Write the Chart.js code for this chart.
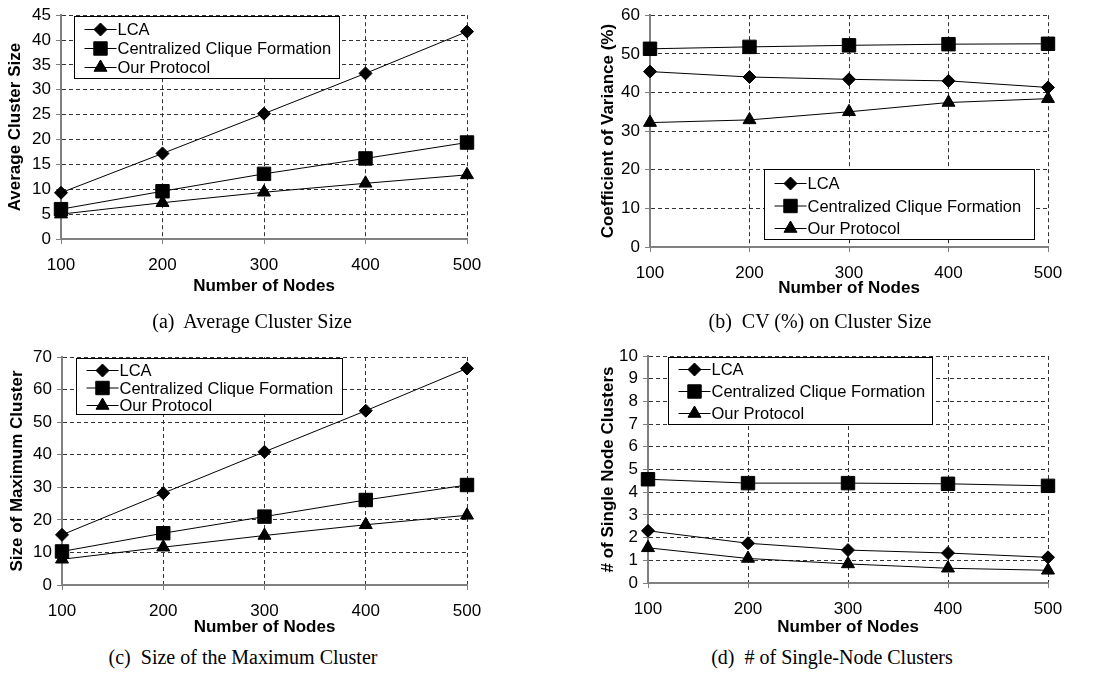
<!DOCTYPE html>
<html>
<head>
<meta charset="utf-8">
<script src="https://cdn.jsdelivr.net/npm/chart.js@4"></script>
<style>
  body { margin: 0; background: #fff; width: 1094px; height: 675px; position: relative; overflow: hidden; }
  .panel { position: absolute; }
  .cap { position: absolute; font: 20px "Liberation Serif", "Times New Roman", serif; color: #000; white-space: pre; transform: translateX(-50%); }
</style>
</head>
<body>
<div class="panel" style="left:0;top:0;width:540px;height:297px"><canvas id="ca"></canvas></div>
<div class="panel" style="left:598px;top:0;width:496px;height:299px"><canvas id="cb"></canvas></div>
<div class="panel" style="left:0;top:330px;width:540px;height:308px"><canvas id="cc"></canvas></div>
<div class="panel" style="left:598px;top:330px;width:496px;height:308px"><canvas id="cd"></canvas></div>
<div class="cap" style="left:252px;top:310px">(a)  Average Cluster Size</div>
<div class="cap" style="left:820px;top:310px">(b)  CV (%) on Cluster Size</div>
<div class="cap" style="left:243px;top:646px">(c)  Size of the Maximum Cluster</div>
<div class="cap" style="left:832px;top:646px">(d)  # of Single-Node Clusters</div>
<script>
const nodes = ['100', '200', '300', '400', '500'];
const seriesNames = ['LCA', 'Centralized Clique Formation', 'Our Protocol'];

// (a) average cluster size
const avgLCA = [9.3, 17.2, 25.2, 33.3, 41.7];
const avgCCF = [6.0, 9.6, 13.1, 16.2, 19.4];
const avgOur = [5.0, 7.3, 9.4, 11.2, 12.9];

// (b) CV (%)
const cvLCA = [45.4, 44.0, 43.4, 43.0, 41.3];
const cvCCF = [51.3, 51.8, 52.2, 52.5, 52.6];
const cvOur = [32.2, 32.9, 35.0, 37.4, 38.4];

// (c) max cluster
const maxLCA = [15.4, 28.2, 40.9, 53.5, 66.5];
const maxCCF = [10.3, 15.9, 21.0, 26.1, 30.7];
const maxOur = [7.9, 11.6, 15.2, 18.5, 21.4];

// (d) single node clusters
const singleLCA = [2.3, 1.75, 1.45, 1.32, 1.13];
const singleCCF = [4.57, 4.40, 4.40, 4.37, 4.28];
const singleOur = [1.55, 1.08, 0.84, 0.65, 0.56];

const SANS = '"Liberation Sans", Arial, sans-serif';
Chart.defaults.font.family = SANS;
Chart.defaults.color = '#000';
Chart.defaults.animation = false;

const markers = [
  { pointStyle: 'rectRot', pointRadius: 6.5 },
  { pointStyle: 'rect', pointRadius: 9.5 },
  { pointStyle: 'triangle', pointRadius: 7.5 },
];

// legend drawn as a framed box inside the plot
const boxLegend = {
  id: 'boxLegend',
  afterDraw(chart, args, o) {
    const { ctx, chartArea } = chart;
    const x0 = Math.round(chartArea.left + o.dx) + 0.5;
    const y0 = Math.round(chartArea.top + o.dy) + 0.5;
    ctx.save();
    ctx.fillStyle = '#fff';
    ctx.fillRect(x0, y0, o.w, o.h);
    ctx.strokeStyle = '#000';
    ctx.lineWidth = 1;
    ctx.strokeRect(x0, y0, o.w, o.h);
    ctx.font = '16.5px ' + SANS;
    ctx.textBaseline = 'middle';
    chart.data.datasets.forEach((d, i) => {
      const y = y0 + o.first + i * o.gap;
      const sx = x0 + 10;
      ctx.strokeStyle = '#000';
      ctx.beginPath();
      ctx.moveTo(sx, y);
      ctx.lineTo(sx + 32, y);
      ctx.stroke();
      ctx.fillStyle = '#000';
      Chart.helpers.drawPoint(ctx, { pointStyle: d.pointStyle, radius: d.pointRadius, rotation: 0, borderWidth: 1 }, sx + 16, y);
      ctx.fillText(d.label, x0 + 43, y + 1);
    });
    ctx.restore();
  }
};

function makeChart(id, lists, yTitle, yMax, yStep, lay) {
  new Chart(document.getElementById(id), {
    type: 'line',
    data: {
      labels: nodes,
      datasets: lists.map((vals, i) => ({
        label: seriesNames[i],
        data: vals,
        borderColor: '#000',
        backgroundColor: '#000',
        borderWidth: 1,
        pointStyle: markers[i].pointStyle,
        pointRadius: markers[i].pointRadius,
        pointBackgroundColor: '#000',
        pointBorderColor: '#000',
        pointBorderWidth: 1,
        tension: 0,
      })),
    },
    options: {
      responsive: true,
      maintainAspectRatio: false,
      layout: { padding: { top: lay.top, right: lay.right, left: 0, bottom: 0 } },
      plugins: {
        legend: { display: false },
        tooltip: { enabled: false },
        boxLegend: lay.legend,
      },
      scales: {
        x: {
          offset: false,
          grid: { color: '#333', lineWidth: 1, tickLength: 5, tickColor: '#808080' },
          border: { color: '#808080', width: 2, dash: [4, 3] },
          ticks: { font: { size: 17 }, padding: 11, maxRotation: 0 },
          title: { display: true, text: 'Number of Nodes', font: { size: 17, weight: 'bold' }, padding: 0 },
          afterFit: (s) => { s.height = lay.xh; },
        },
        y: {
          min: 0,
          max: yMax,
          grid: { color: '#333', lineWidth: 1, tickLength: 5, tickColor: '#808080' },
          border: { color: '#808080', width: 2, dash: [4, 3] },
          ticks: { stepSize: yStep, autoSkip: false, font: { size: 17 }, padding: 5 },
          title: { display: true, text: yTitle, font: { size: 17, weight: 'bold' }, padding: { top: lay.tp, bottom: 0 } },
          afterFit: (s) => { s.width = lay.yw; },
        },
      },
    },
    plugins: [boxLegend],
  });
}

makeChart('ca', [avgLCA, avgCCF, avgOur], 'Average Cluster Size', 45, 5,
  { top: 15, right: 73, xh: 58, yw: 61, tp: 5, legend: { dx: 13, dy: 1, w: 265, h: 62, first: 13, gap: 19 } });
makeChart('cb', [cvLCA, cvCCF, cvOur], 'Coefficient of Variance (%)', 60, 10,
  { top: 14, right: 46, xh: 52, yw: 52, tp: 0, legend: { dx: 114, dy: 154, w: 270, h: 70, first: 14, gap: 22.5 } });
makeChart('cc', [maxLCA, maxCCF, maxOur], 'Size of Maximum Cluster', 70, 10,
  { top: 27, right: 73, xh: 53, yw: 62, tp: 7, legend: { dx: 14, dy: 1, w: 266, h: 56, first: 12, gap: 17.5 } });
makeChart('cd', [singleLCA, singleCCF, singleOur], '# of Single Node Clusters', 10, 1,
  { top: 26, right: 46, xh: 55, yw: 50, tp: 0, legend: { dx: 20, dy: 1, w: 264, h: 67, first: 12, gap: 22 } });
</script>
</body>
</html>
